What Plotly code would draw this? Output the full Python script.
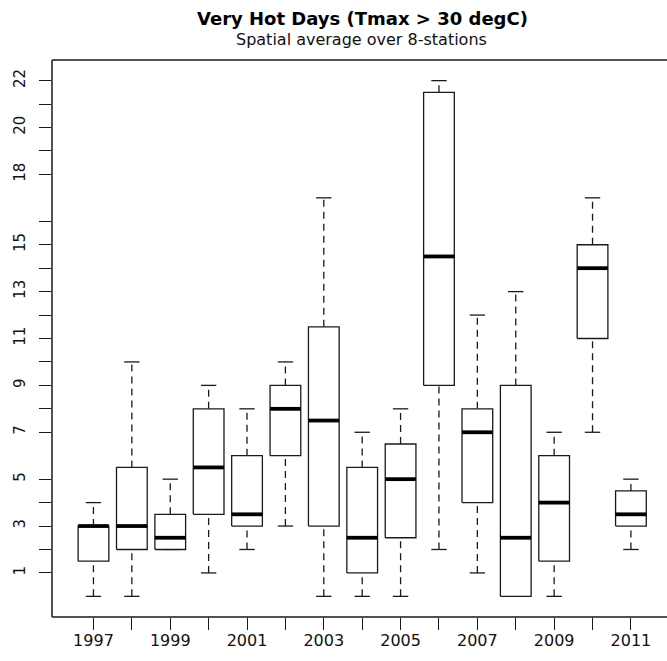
import plotly.graph_objects as go

years = [1997, 1998, 1999, 2000, 2001, 2002, 2003, 2004, 2005, 2006, 2007, 2008, 2009, 2010, 2011]
w_low = [0, 0, 2, 1, 2, 3, 0, 0, 0, 2, 1, 0, 0, 7, 2]
q1 = [1.5, 2, 2, 3.5, 3, 6, 3, 1, 2.5, 9, 4, 0, 1.5, 11, 3]
median = [3, 3, 2.5, 5.5, 3.5, 8, 7.5, 2.5, 5, 14.5, 7, 2.5, 4, 14, 3.5]
q3 = [3, 5.5, 3.5, 8, 6, 9, 11.5, 5.5, 6.5, 21.5, 8, 9, 6, 15, 4.5]
w_high = [4, 10, 5, 9, 8, 10, 17, 7, 8, 22, 12, 13, 7, 17, 5]

y_tickvals = [1, 2, 3, 4, 5, 7, 8, 9, 10, 11, 12, 13, 14, 15, 16, 18, 19, 20, 21, 22]
y_labeled = [1, 3, 5, 7, 9, 11, 13, 15, 18, 20, 22]
x_labeled = [1997, 1999, 2001, 2003, 2005, 2007, 2009, 2011]

title = "Very Hot Days (Tmax > 30 degC)"
subtitle = "Spatial average over 8-stations"

HALF = 0.4
CAP = 0.2
LC = "#1a1a1a"
FONT = "DejaVu Sans"

bx, by, mx, my, wx, wy, cx, cy = [], [], [], [], [], [], [], []
for x, lo, a, m, b, hi in zip(years, w_low, q1, median, q3, w_high):
    bx += [x - HALF, x + HALF, x + HALF, x - HALF, x - HALF, None]
    by += [a, a, b, b, a, None]
    mx += [x - HALF, x + HALF, None]
    my += [m, m, None]
    if hi > b:
        wx += [x, x, None]
        wy += [b, hi, None]
    if lo < a:
        wx += [x, x, None]
        wy += [lo, a, None]
    cx += [x - CAP, x + CAP, None, x - CAP, x + CAP, None]
    cy += [hi, hi, None, lo, lo, None]

fig = go.Figure()
fig.add_trace(go.Scatter(x=wx, y=wy, mode="lines", line=dict(color=LC, width=1.3, dash="7px,5px"), hoverinfo="skip"))
fig.add_trace(go.Scatter(x=cx, y=cy, mode="lines", line=dict(color=LC, width=1.3), hoverinfo="skip"))
fig.add_trace(go.Scatter(x=bx, y=by, mode="lines", fill="toself", fillcolor="white", line=dict(color=LC, width=1.3), hoverinfo="skip"))
fig.add_trace(go.Scatter(x=mx, y=my, mode="lines", line=dict(color="black", width=3.8), hoverinfo="skip"))

W, H = 667, 661
L, R, T, B = 52, 6, 60.4, 44
pw, ph = W - L - R, H - T - B
UNIT = 38.39
x0 = 1995.92
x1 = x0 + pw / UNIT

def py(p):
    return (H - B - p) / ph

fig.add_annotation(text="<b>" + title + "</b>", x=(362 - L) / pw, y=py(18.5), xref="paper", yref="paper",
                   showarrow=False, font=dict(size=18, color="black", family=FONT), xanchor="center", yanchor="middle")
fig.add_annotation(text=subtitle, x=(361 - L) / pw, y=py(39.5), xref="paper", yref="paper",
                   showarrow=False, font=dict(size=16, color="#111", family=FONT), xanchor="center", yanchor="middle")

# frame: left, bottom, top (right edge is outside the picture)
fig.add_shape(type="line", xref="paper", yref="paper", x0=0, x1=0, y0=0, y1=1, line=dict(color=LC, width=1.5))
fig.add_shape(type="line", xref="paper", yref="paper", x0=0, x1=(W - L) / pw, y0=0, y1=0, line=dict(color=LC, width=1.5))
fig.add_shape(type="line", xref="paper", yref="paper", x0=0, x1=(W - L) / pw, y0=1, y1=1, line=dict(color=LC, width=1.5))

fig.update_layout(
    width=W, height=H,
    margin=dict(l=L, r=R, t=T, b=B, pad=0),
    paper_bgcolor="white", plot_bgcolor="white",
    showlegend=False,
    font=dict(family=FONT, size=15, color="black"),
    xaxis=dict(
        range=[x0, x1], showgrid=False, zeroline=False,
        tickmode="array", tickvals=years,
        ticktext=[str(y) if y in x_labeled else "" for y in years],
        ticks="outside", ticklen=12, tickwidth=1.3, tickcolor=LC,
        showline=False, ticklabelstandoff=-3,
        tickfont=dict(size=16, color="#111"),
    ),
    yaxis=dict(
        range=[-0.88, 22.88], showgrid=False, zeroline=False,
        tickmode="array", tickvals=y_tickvals,
        ticktext=[str(v) if v in y_labeled else "" for v in y_tickvals],
        ticks="outside", ticklen=12, tickwidth=1.3, tickcolor=LC,
        showline=False, ticklabelstandoff=8,
        tickangle=-90, tickfont=dict(size=15, color="#111"),
    ),
)

fig.write_html("out.html")
